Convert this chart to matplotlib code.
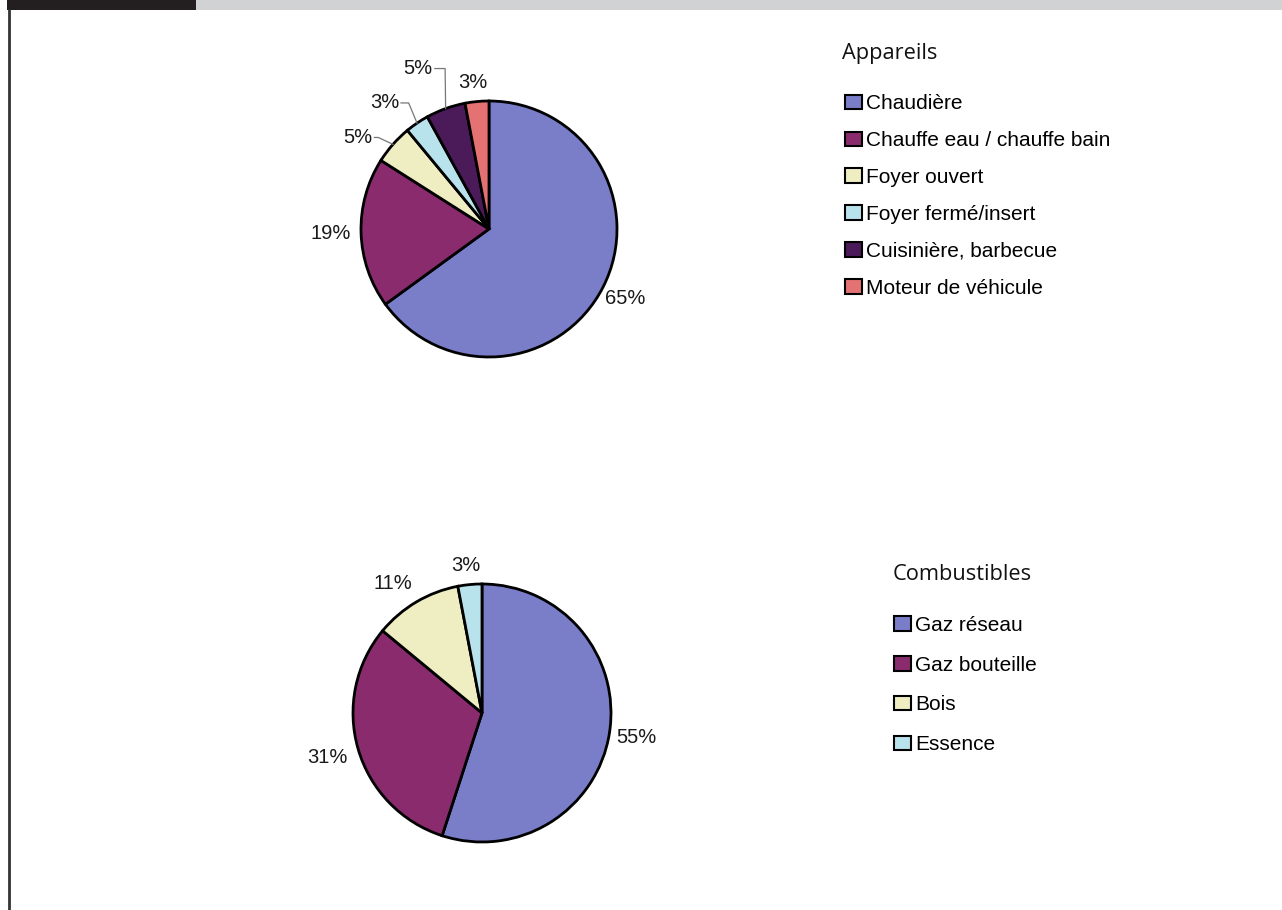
import numpy as np
import matplotlib.pyplot as plt
from matplotlib.patches import Rectangle
from matplotlib.lines import Line2D

# data
appareils = ["Chaudière", "Chauffe eau / chauffe bain", "Foyer ouvert",
             "Foyer fermé/insert", "Cuisinière, barbecue", "Moteur de véhicule"]
appareils_pct = [65, 19, 5, 3, 5, 3]
combustibles = ["Gaz réseau", "Gaz bouteille", "Bois", "Essence"]
combustibles_pct = [55, 31, 11, 3]

colors_app = ["#7a7ec9", "#8a2b6e", "#eeeec2", "#b9e3ec", "#4b1a58", "#e57272"]
colors_comb = ["#7a7ec9", "#8a2b6e", "#eeeec2", "#b9e3ec"]

W, H = 1282, 910
fig = plt.figure(figsize=(W / 100, H / 100), dpi=100)
fig.patch.set_facecolor("white")

# page decorations
fig.add_artist(Rectangle((7 / W, 1 - 10 / H), 189 / W, 10 / H,
                         transform=fig.transFigure, color="#231f20", lw=0))
fig.add_artist(Rectangle((196 / W, 1 - 10 / H), (W - 196) / W, 10 / H,
                         transform=fig.transFigure, color="#d1d2d4", lw=0))
fig.add_artist(Line2D([8.5 / W, 8.5 / W], [0, 1 - 10 / H],
                      transform=fig.transFigure, color="#333333", lw=2))

TXT = "Liberation Sans"
TITLE = "Open Sans"
FS = 14.5


def axes_at(cx, cy, r):
    return fig.add_axes([(cx - r) / W, 1 - (cy + r) / H, 2 * r / W, 2 * r / H])


def draw_pie(ax, values, colors, label_cfg):
    wedges, _ = ax.pie(values, colors=colors, startangle=90, counterclock=False,
                       wedgeprops=dict(edgecolor="black", linewidth=2))
    ax.set_xlim(-1, 1)
    ax.set_ylim(-1, 1)
    for w, v, (dist, dang, leader) in zip(wedges, values, label_cfg):
        mid = np.deg2rad((w.theta1 + w.theta2) / 2)
        ang = mid + np.deg2rad(dang)
        tx, ty = dist * np.cos(ang), dist * np.sin(ang)
        ax.text(tx, ty, f"{v}%", ha="center", va="center", fontsize=FS,
                family=TXT, color="#1a1a1a")
        if leader:
            # short horizontal tick after the label, then down to the wedge
            ex, ey = 1.0 * np.cos(mid), 1.0 * np.sin(mid)
            x0 = tx + 0.13
            ax.plot([x0, x0 + leader, ex], [ty, ty, ey], color="#777777",
                    lw=0.9, clip_on=False)
    return wedges


ax1 = axes_at(489, 229, 128)
w1 = draw_pie(ax1, appareils_pct, colors_app,
              [(1.19, 0, 0), (1.24, 0, 0), (1.25, 6.5, 0.03), (1.28, 5.5, 0.06),
               (1.37, 4, 0.08), (1.15, 1, 0)])

ax2 = axes_at(482, 713, 129)
w2 = draw_pie(ax2, combustibles_pct, colors_comb,
              [(1.21, 0, 0), (1.25, 0, 0), (1.22, 4, 0), (1.15, 1, 0)])

for wedges, labels, title, tx, ty, lx, ly, sp in [
        (w1, appareils, "Appareils", 842, 54, 845, 196, 0.86),
        (w2, combustibles, "Combustibles", 893, 574, 894, 685, 1.0)]:
    fig.text(tx / W, 1 - ty / H, title, family=TITLE, fontsize=15.7,
             ha="left", va="center", color="#111111")
    leg = fig.legend(wedges, labels, loc="center left",
                     bbox_to_anchor=(lx / W, 1 - ly / H), frameon=False,
                     prop=dict(family=TXT, size=15),
                     borderpad=0, borderaxespad=0,
                     handlelength=0.8, handleheight=0.7, handletextpad=0.2,
                     labelspacing=sp)
    for h in leg.legend_handles:
        h.set_linewidth(1.5)

fig.savefig("out.png", dpi=100, facecolor="white")
